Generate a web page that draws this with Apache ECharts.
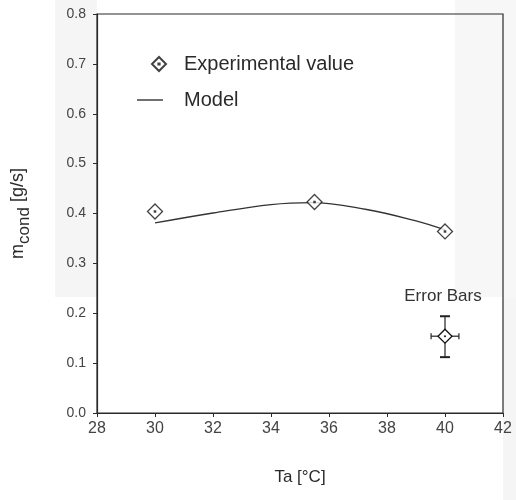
<!DOCTYPE html>
<html>
<head>
<meta charset="utf-8">
<script src="https://cdn.jsdelivr.net/npm/echarts@6/dist/echarts.min.js"></script>
<style>html,body{margin:0;padding:0;background:#fff}#c{width:516px;height:500px}</style>
</head>
<body>
<div id="c"></div>
<script>
// ---- data ----
const xTicks = [28, 30, 32, 34, 36, 38, 40, 42];
const yTicks = [0.0, 0.1, 0.2, 0.3, 0.4, 0.5, 0.6, 0.7, 0.8];
const expTa = [30, 35.5, 40];
const expM = [0.404, 0.423, 0.364];
const modelTa = [30, 32, 34, 35.4, 37.3, 39, 40];
const modelM = [0.381, 0.401, 0.418, 0.422, 0.408, 0.385, 0.367];
// error bar example
const errTa = [40];
const errM = [0.154];
const errLow = [0.112];
const errHigh = [0.194];
const errX = [0.48];

const FONT = '"Liberation Sans", Arial, sans-serif';
const INK = '#2a2a2a';
const diamondPath = 'path://M7,0 L14,7 L7,14 L0,7 Z M6.4,6.4 L7.6,6.4 L7.6,7.6 L6.4,7.6 Z';

const chart = echarts.init(document.getElementById('c'), null, {renderer: 'canvas'});

const option = {
  backgroundColor: '#fff',
  animation: false,
  graphic: [
    {type: 'rect', z: -10, shape: {x: 55, y: 0, width: 42, height: 297}, style: {fill: '#f5f5f5'}},
    {type: 'rect', z: -10, shape: {x: 455, y: 0, width: 61, height: 297}, style: {fill: '#f7f7f7'}},
    {type: 'rect', z: -10, shape: {x: 503, y: 297, width: 13, height: 203}, style: {fill: '#f5f5f5'}}
  ],
  grid: {left: 97, right: 13, top: 14, bottom: 87, show: true, borderColor: INK, borderWidth: 1.2, backgroundColor: 'transparent'},
  legend: [
    {
      data: [{name: 'Experimental value', icon: diamondPath}],
      left: 151, top: 54, padding: 0, itemWidth: 14, itemHeight: 14,
      selectedMode: false,
      textStyle: {fontFamily: FONT, fontSize: 20, color: INK, padding: [0, 0, 0, 13]}
    },
    {
      data: [{name: 'Model', icon: 'rect', itemStyle: {color: '#333', borderWidth: 0}}],
      left: 137, top: 90, padding: 0, itemWidth: 26, itemHeight: 1.4,
      symbolKeepAspect: false,
      selectedMode: false,
      textStyle: {fontFamily: FONT, fontSize: 20, color: INK, padding: [0, 0, 0, 16]}
    }
  ],
  xAxis: {
    type: 'value', min: xTicks[0], max: xTicks[xTicks.length - 1], interval: 2,
    name: 'Ta [°C]', nameLocation: 'middle', nameGap: 56,
    nameTextStyle: {fontFamily: FONT, fontSize: 17, color: INK},
    axisLine: {show: true, lineStyle: {color: INK, width: 1.2}},
    axisTick: {show: true, length: 4, inside: false, lineStyle: {color: INK}},
    axisLabel: {fontFamily: FONT, fontSize: 16, color: '#444', margin: 8, formatter: v => String(v)},
    splitLine: {show: false}
  },
  yAxis: {
    type: 'value', min: yTicks[0], max: yTicks[yTicks.length - 1], interval: 0.1,
    name: '{a|m}{b|cond}{a| [g/s]}', nameLocation: 'middle', nameGap: 64,
    nameTextStyle: {
      fontFamily: FONT, color: INK,
      rich: {
        a: {fontFamily: FONT, fontSize: 18, color: INK, lineHeight: 24, verticalAlign: 'top'},
        b: {fontFamily: FONT, fontSize: 17, color: INK, lineHeight: 24, verticalAlign: 'bottom'}
      }
    },
    axisLine: {show: true, lineStyle: {color: INK, width: 1.2}},
    axisTick: {show: true, length: 4, inside: false, lineStyle: {color: INK}},
    axisLabel: {fontFamily: FONT, fontSize: 14, color: '#444', margin: 11, formatter: v => v.toFixed(1)},
    splitLine: {show: false}
  },
  series: [
    {
      name: 'Model', type: 'line', smooth: 0.4, symbol: 'none',
      data: modelTa.map((t, i) => [t, modelM[i]]),
      lineStyle: {color: '#333', width: 1.3},
      itemStyle: {color: '#333'},
      z: 2
    },
    {
      name: 'Experimental value', type: 'scatter', symbol: diamondPath, symbolSize: 15,
      symbolKeepAspect: true,
      data: expTa.map((t, i) => [t, expM[i]]),
      itemStyle: {color: '#fff', borderColor: '#111', borderWidth: 1.3},
      z: 3
    },
    {
      name: 'Error Bars', type: 'custom',
      data: errTa.map((t, i) => [t, errM[i], errLow[i], errHigh[i], errX[i]]),
      renderItem: function (params, api) {
        const x = api.value(0), y = api.value(1), lo = api.value(2), hi = api.value(3), xe = api.value(4);
        const c = api.coord([x, y]);
        const top = api.coord([x, hi]);
        const bot = api.coord([x, lo]);
        const l = api.coord([x - xe, y]);
        const r = api.coord([x + xe, y]);
        const ls = {stroke: '#222', lineWidth: 1.2};
        const cap = {stroke: '#222', lineWidth: 2};
        const h = 7;
        return {
          type: 'group',
          children: [
            {type: 'line', shape: {x1: c[0], y1: top[1], x2: c[0], y2: bot[1]}, style: ls},
            {type: 'line', shape: {x1: c[0] - 5, y1: top[1], x2: c[0] + 5, y2: top[1]}, style: cap},
            {type: 'line', shape: {x1: c[0] - 5, y1: bot[1], x2: c[0] + 5, y2: bot[1]}, style: cap},
            {type: 'line', shape: {x1: l[0], y1: c[1], x2: r[0], y2: c[1]}, style: ls},
            {type: 'line', shape: {x1: l[0], y1: c[1] - 3, x2: l[0], y2: c[1] + 3}, style: ls},
            {type: 'line', shape: {x1: r[0], y1: c[1] - 3, x2: r[0], y2: c[1] + 3}, style: ls},
            {type: 'polygon', shape: {points: [[c[0], c[1] - h], [c[0] + h, c[1]], [c[0], c[1] + h], [c[0] - h, c[1]]]},
              style: {fill: '#fff', stroke: '#111', lineWidth: 1.3}},
            {type: 'circle', shape: {cx: c[0], cy: c[1], r: 1}, style: {fill: '#111'}},
            {type: 'text', x: c[0] - 2, y: top[1] - 20,
              style: {text: 'Error Bars', fontFamily: FONT, fontSize: 17, fill: '#333', align: 'center', verticalAlign: 'middle'}}
          ]
        };
      },
      z: 4
    }
  ]
};
chart.setOption(option);
</script>
</body>
</html>
